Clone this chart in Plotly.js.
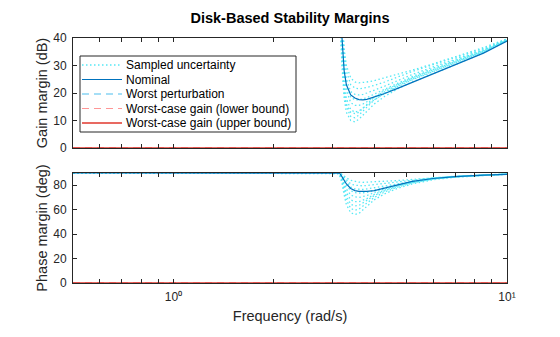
<!DOCTYPE html>
<html><head><meta charset="utf-8">
<script src="https://cdn.plot.ly/plotly-3.0.1.min.js"></script>
<style>html,body{margin:0;padding:0;background:#fff;} #chart{width:560px;height:337px;}</style>
</head><body><div id="chart"></div>
<script>
// ---- data ----
const freq = [0.5, 3.1, 3.15, 3.2, 3.25, 3.3, 3.4, 3.5, 3.6, 3.7, 3.8, 4.0, 4.3, 4.7, 5.2, 6, 7, 8.5, 10];

const gainNominal = [100, 100, 60, 40.5, 28, 23, 19.3, 18.2, 17.6, 17.5, 17.7, 18.5, 19.8, 21.7, 23.9, 27.0, 30.3, 34.5, 38.9];
const phaseNominal = [90, 90, 89.8, 87, 84, 81, 77.3, 75.6, 74.9, 74.8, 75, 75.6, 77.8, 80.2, 83.2, 85.5, 87, 88.2, 88.9];

const gainSampled = [
  [100, 100, 50, 30, 18, 13, 10, 9.5, 10.5, 12, 13.5, 16, 18.8, 21.5, 24, 27, 30.3, 34.6, 39],
  [100, 100, 52, 32, 20, 16, 13, 12.5, 13, 14.5, 16, 18.5, 21, 23.2, 25.5, 28.5, 31.5, 35.3, 39.3],
  [100, 100, 55, 33, 21, 15, 11.5, 11, 12, 13.5, 15, 17.5, 20, 22.5, 25, 28, 31, 35, 39.2],
  [100, 100, 58, 36, 24, 18, 14, 13, 13.5, 14.5, 15.5, 17.5, 19.8, 22.3, 24.8, 27.8, 31, 35, 39.2],
  [100, 100, 62, 40, 27, 21, 16.5, 15.5, 15.5, 16, 16.8, 18.5, 20.5, 23, 25.5, 28.5, 31.5, 35.3, 39.3],
  [100, 100, 64, 42, 29, 23, 18.5, 17.5, 17.5, 17.8, 18.3, 19.6, 21.3, 23.6, 26, 29, 32, 35.6, 39.4],
  [100, 100, 66, 44, 31, 25, 20.5, 19.5, 19.3, 19.5, 20, 21, 22.5, 24.5, 26.7, 29.5, 32.3, 35.8, 39.5],
  [100, 100, 70, 48, 34, 28, 23, 21.8, 21.5, 21.7, 22, 22.8, 24, 25.8, 27.8, 30.3, 32.9, 36.2, 39.6],
  [100, 100, 72, 50, 36, 30, 25.5, 24, 23.7, 23.8, 24, 24.5, 25.5, 27, 28.3, 30.6, 33.2, 36.5, 39.7]
];
const phaseSampled = [
  [90, 90, 88, 82, 72, 64, 57.5, 56, 57, 60, 63, 68, 73, 77.5, 81, 84.5, 86.5, 88, 89],
  [90, 90, 88.5, 84, 75, 68, 61, 59.5, 60.5, 63, 65.5, 70, 74.5, 78.5, 81.8, 85, 86.8, 88.2, 89],
  [90, 90, 89, 85, 78, 71, 64.5, 63, 63.5, 65.5, 67.5, 71.5, 75.5, 79, 82, 85.2, 86.9, 88.2, 89],
  [90, 90, 89.2, 86, 80, 74, 68, 66.5, 66.5, 67.5, 69, 72.5, 76, 79.5, 82.3, 85.3, 87, 88.3, 89],
  [90, 90, 89.5, 87, 82, 77, 72, 70.5, 70, 70.5, 71.5, 74, 77, 80, 82.7, 85.4, 87, 88.3, 89],
  [90, 90, 89.6, 87.5, 84, 80, 75.5, 74, 73.5, 73.7, 74.2, 75.8, 78, 80.6, 83, 85.5, 87, 88.3, 89],
  [90, 90, 89.7, 88, 85.5, 82.5, 78.5, 77, 76.5, 76.5, 77, 78, 79.5, 81.5, 83.5, 85.7, 87.1, 88.4, 89],
  [90, 90, 89.8, 88.5, 86.5, 84.5, 81, 80, 79.5, 79.5, 79.8, 80.5, 81.5, 82.8, 84.2, 86, 87.3, 88.5, 89.1],
  [90, 90, 89.9, 89, 87.5, 86, 84, 83, 82.5, 82.4, 82.5, 83, 83.4, 83.8, 84.7, 86.2, 87.4, 88.6, 89.2]
];

const boundFreq = [0.5, 10];
const gainWorstPert = [0, 0];
const phaseWorstPert = [0, 0];
const gainLowerBound = [0, 0];
const gainUpperBound = [0, 0];
const phaseLowerBound = [0, 0];
const phaseUpperBound = [0, 0];

const xMajorTicks = [1, 10];
const xMajorText = ['10⁰', '10¹'];
const xMinorTicks = [0.6, 0.7, 0.8, 0.9, 2, 3, 4, 5, 6, 7, 8, 9];
const gainTicks = [0, 10, 20, 30, 40];
const phaseTicks = [0, 20, 40, 60, 80];

const legendLabels = ['Sampled uncertainty', 'Nominal', 'Worst perturbation', 'Worst-case gain (lower bound)', 'Worst-case gain (upper bound)'];

// ---- styles ----
const C_SAMP = 'rgb(85,232,245)';
const C_NOM = 'rgb(0,114,189)';
const C_WP = 'rgb(77,190,238)';
const C_LB = 'rgb(255,150,150)';
const C_UB = 'rgb(225,55,45)';
const SAMP_DASH = '1.5px,2.5px';
const legendStyles = [
  {color: C_SAMP, width: 1.3, dash: SAMP_DASH},
  {color: C_NOM, width: 1.2, dash: 'solid'},
  {color: C_WP, width: 1.2, dash: '7px,5px'},
  {color: C_LB, width: 1.2, dash: '7px,5px'},
  {color: C_UB, width: 1.4, dash: 'solid'}
];

const traces = [];
function addPanel(xa, ya, samp, nom, wp, lb, ub) {
  samp.forEach(s => traces.push({x: freq, y: s, xaxis: xa, yaxis: ya, mode: 'lines', line: {color: C_SAMP, width: 1.3, dash: SAMP_DASH}, hoverinfo: 'skip', showlegend: false}));
  traces.push({x: boundFreq, y: wp, xaxis: xa, yaxis: ya, mode: 'lines', line: {color: C_WP, width: 1.2, dash: '7px,5px'}, showlegend: false});
  traces.push({x: freq, y: nom, xaxis: xa, yaxis: ya, mode: 'lines', line: {color: C_NOM, width: 1.2}, showlegend: false});
  traces.push({x: boundFreq, y: lb, xaxis: xa, yaxis: ya, mode: 'lines', line: {color: C_LB, width: 1.4, dash: '7px,5px'}, showlegend: false});
  traces.push({x: boundFreq, y: ub, xaxis: xa, yaxis: ya, mode: 'lines', line: {color: C_UB, width: 1.6}, showlegend: false});
}
addPanel('x', 'y', gainSampled, gainNominal, gainWorstPert, gainLowerBound, gainUpperBound);
addPanel('x2', 'y2', phaseSampled, phaseNominal, phaseWorstPert, phaseLowerBound, phaseUpperBound);

// pixel frame helpers for the (non-data) legend box
const L = 73, R = 507, T = 38, B = 283;
const px = v => (v - L) / (R - L);
const py = v => (B - v) / (B - T);

const shapes = [{type: 'rect', xref: 'paper', yref: 'paper', x0: px(80), x1: px(296), y0: py(132), y1: py(56),
  line: {color: '#262626', width: 1}, fillcolor: '#ffffff', layer: 'above'}];
const annotations = [];
const rowY = [65, 79.5, 94, 108.5, 123];
legendLabels.forEach((t, i) => {
  shapes.push({type: 'line', xref: 'paper', yref: 'paper', x0: px(82), x1: px(122), y0: py(rowY[i]), y1: py(rowY[i]),
    line: legendStyles[i], layer: 'above'});
  annotations.push({xref: 'paper', yref: 'paper', x: px(124), y: py(rowY[i]), xanchor: 'left', yanchor: 'middle',
    text: t, showarrow: false, font: {size: 12, color: '#000'}});
});

const axCommon = {showline: true, linecolor: '#262626', linewidth: 1, ticks: 'inside', ticklen: 4, tickcolor: '#262626',
  mirror: 'ticks', showgrid: false, zeroline: false, fixedrange: true};
const xMinor = {tickmode: 'array', tickvals: xMinorTicks, ticks: 'inside', ticklen: 4, tickcolor: '#262626', showgrid: false};

const layout = {
  width: 560, height: 337,
  margin: {l: 73, r: 53, t: 38, b: 54},
  paper_bgcolor: '#ffffff', plot_bgcolor: '#ffffff',
  showlegend: false,
  font: {family: 'Liberation Sans, Arial, sans-serif', color: '#262626', size: 12},
  title: {text: '<b>Disk-Based Stability Margins</b>', font: {size: 14.5, color: '#000'}, x: 0.5, xref: 'paper',
    y: 1 - 18 / 337, yref: 'container', yanchor: 'middle'},
  xaxis: Object.assign({}, axCommon, {type: 'log', range: [Math.log10(0.5), 1], anchor: 'y', domain: [0, 1],
    tickmode: 'array', tickvals: xMajorTicks, ticktext: xMajorText, showticklabels: false, minor: xMinor}),
  xaxis2: Object.assign({}, axCommon, {type: 'log', range: [Math.log10(0.5), 1], anchor: 'y2', domain: [0, 1],
    tickmode: 'array', tickvals: xMajorTicks, ticktext: xMajorText, tickfont: {size: 12}, minor: xMinor,
    ticklabelstandoff: 3,
    title: {text: 'Frequency (rad/s)', font: {size: 14.5}, standoff: 7}}),
  yaxis: Object.assign({}, axCommon, {range: [0, 40], anchor: 'x', domain: [(B - 148) / (B - T), 1],
    tickmode: 'array', tickvals: gainTicks, tickfont: {size: 12}, ticklabelstandoff: 3,
    title: {text: 'Gain margin (dB)', font: {size: 14.5}, standoff: 2}}),
  yaxis2: Object.assign({}, axCommon, {range: [0, 90], anchor: 'x2', domain: [0, (B - 173) / (B - T)],
    tickmode: 'array', tickvals: phaseTicks, tickfont: {size: 12}, ticklabelstandoff: 3,
    title: {text: 'Phase margin (deg)', font: {size: 14.5}, standoff: 2}}),
  shapes: shapes,
  annotations: annotations
};

Plotly.newPlot('chart', traces, layout, {displayModeBar: false, staticPlot: true}).then(gd => {
  gd.querySelectorAll('text').forEach(t => { if (!t.textContent.trim()) t.remove(); });
});
</script>
</body></html>
